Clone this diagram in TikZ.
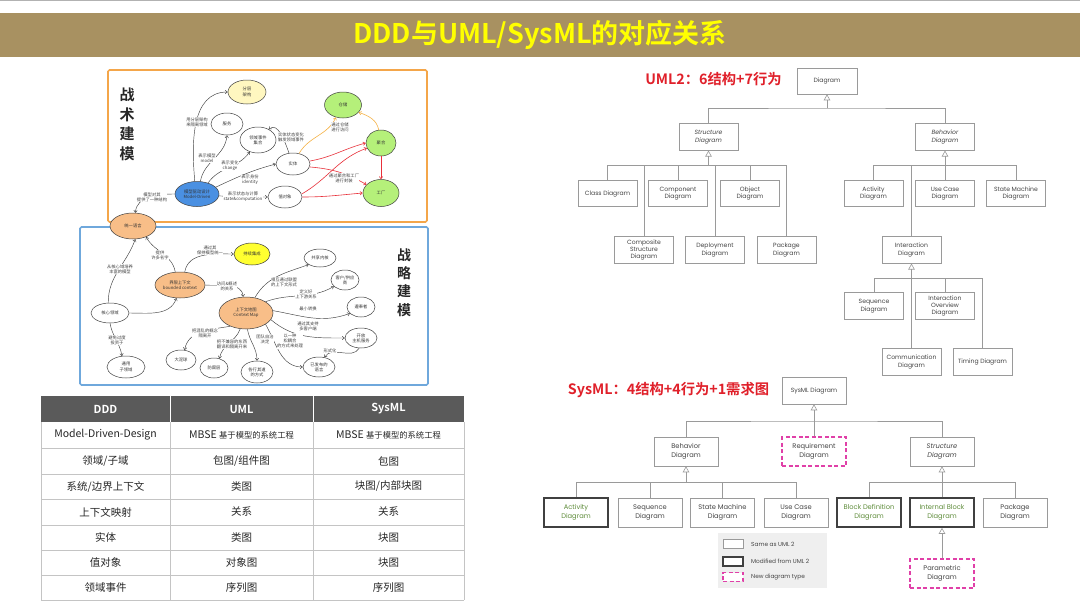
\documentclass[tikz,border=0pt]{standalone}
\usepackage{fontspec}
\usetikzlibrary{arrows.meta,shapes.geometric}
\setmainfont{Noto Sans CJK SC}[BoldFont={Noto Sans CJK SC Bold}]
\newfontfamily\cjk{Noto Sans CJK SC}[BoldFont={Noto Sans CJK SC Bold}]
\newfontfamily\gothic{Poppins}
\definecolor{barbrown}{HTML}{A89161}
\definecolor{titleyellow}{HTML}{FFFF00}
\definecolor{redtitle}{HTML}{E0202A}
\definecolor{orgframe}{HTML}{F4A64A}
\definecolor{blueframe}{HTML}{6FA8DC}
\definecolor{peach}{HTML}{F8BE88}
\definecolor{mdblue}{HTML}{4A90E2}
\definecolor{paleyellow}{HTML}{FFF7C0}
\definecolor{brightyellow}{HTML}{FFFF30}
\definecolor{lgreen}{HTML}{B5F07A}
\definecolor{linegray}{HTML}{404040}
\definecolor{redarrow}{HTML}{E8303A}
\definecolor{orangearrow}{HTML}{F5B041}
\definecolor{hdrgray}{HTML}{5A5A5A}
\definecolor{gridgray}{HTML}{C4C4C4}
\definecolor{umlgray}{HTML}{9A9A9A}
\definecolor{umltext}{HTML}{444444}
\definecolor{sysgreen}{HTML}{5E8C3A}
\definecolor{magenta2}{HTML}{E040A8}
\definecolor{legendbg}{HTML}{EFEFEF}
\tikzset{
  mm/.style={ellipse, draw=linegray, line width=0.5pt, fill=white, inner sep=0pt, align=center, font=\cjk\fontsize{4.3}{5.2}\selectfont, text=black!80},
  sz/.style 2 args={minimum width=#1pt, minimum height=#2pt},
  lbl/.style={font=\cjk\fontsize{4.3}{5.2}\selectfont, align=center, text=black!75, inner sep=0.4pt, fill=white},
  arr/.style={-{Straight Barb[length=2.2pt,width=3.4pt]}, draw=linegray, line width=0.45pt},
  rarr/.style={arr, draw=redarrow, line width=0.6pt},
  oarr/.style={arr, draw=orangearrow, line width=0.6pt},
  ub/.style={rectangle, draw=umlgray, line width=0.6pt, fill=white, align=center, font=\gothic\fontsize{6.1}{7.4}\selectfont, text=umltext, inner sep=1pt},
  itl/.style={font=\gothic\itshape\fontsize{6.1}{7.4}\selectfont},
  sfont/.style={font=\gothic\fontsize{6.7}{8.4}\selectfont},
  sitl/.style={font=\gothic\itshape\fontsize{6.7}{8.4}\selectfont},
  uw/.style={minimum width=59pt, minimum height=26.5pt},
  sysw/.style={minimum width=64pt, minimum height=29pt, sfont},
  uln/.style={draw=umlgray, line width=0.6pt},
  gen/.style={uln, -{Triangle[open, length=6pt, width=6.5pt]}},
  thickb/.style={draw=black!75, line width=1.6pt, text=sysgreen},
  newb/.style={draw=magenta2, line width=1.2pt, dash pattern=on 4pt off 2.5pt},
  tcell/.style={font=\cjk\fontsize{10.5}{12}\selectfont, text=black!85},
  thead/.style={font=\cjk\bfseries\fontsize{11}{12}\selectfont, text=white},
  redt/.style={font=\cjk\bfseries\fontsize{14.3}{16}\selectfont, text=redtitle},
}
\begin{document}
\begin{tikzpicture}[x=1pt, y=-1pt]
\useasboundingbox (0,0) rectangle (1080,608);
\fill[white] (0,0) rectangle (1080,608);
\draw[gray!60, line width=1.2pt] (0,0.8) -- (1080,0.8);
% title bar
\fill[barbrown] (0,13) rectangle (1080,57);
\node[font=\cjk\bfseries\fontsize{27}{29}\selectfont, text=titleyellow] (title) at (540,35) {DDD与UML/SysML的对应关系};

% frames
\draw[orgframe, line width=1.6pt, rounded corners=1.5pt] (108,70) rectangle (427,222);
\draw[blueframe, line width=1.6pt, rounded corners=1.5pt] (80,227) rectangle (428,385);
\node[font=\cjk\bfseries\fontsize{15}{19.6}\selectfont, align=center, text=black!85] (tz) at (127,124.5) {战\\术\\建\\模};
\node[font=\cjk\bfseries\fontsize{14}{18.3}\selectfont, align=center, text=black!85] (zl) at (404,282.5) {战\\略\\建\\模};

% ---------- tactical map ----------
\node[mm, fill=paleyellow, sz={38}{24}] (fc) at (247,92) {分层\\架构};
\node[mm, sz={32}{22}] (fw) at (227,124) {服务};
\node[mm, sz={36}{26}] (ly) at (258,140) {领域事件\\集合};
\node[mm, fill=mdblue, sz={44}{25}] (md) at (197,194) {模型驱动设计\\Model-Driven};
\node[mm, sz={34}{22}] (st) at (293,164) {实体};
\node[mm, sz={34}{22}] (zd) at (285,197) {值对象};
\node[mm, fill=lgreen, sz={37}{26}] (cc) at (343,105) {仓储};
\node[mm, fill=lgreen, sz={30}{26}] (jh) at (381,143) {聚合};
\node[mm, fill=lgreen, sz={36}{27}] (gc) at (381,193) {工厂};
\node[mm, fill=peach, sz={46}{26}] (ty) at (133,226) {统一语言};

\draw[arr] (md.100) to[out=95,in=180] (fc.west);
\draw[arr] (md.75) to[out=80,in=-95] (fw.south);
\draw[arr] (md.45) to[out=55,in=-125] (ly.235);
\draw[arr] (md.20) to[out=25,in=195] (st.west);
\draw[arr] (md.-5) to[out=-2,in=180] (zd.west);
\draw[arr] (md.west) to[out=180,in=85] (ty.80);
\draw[arr] (st.110) to[out=110,in=40] (ly.45);
\draw[oarr] (st.60) to[out=60,in=-115] (cc.240);
\draw[oarr] (jh.100) to[out=100,in=-20] (cc.-25);
\draw[rarr] (st.10) to[out=10,in=195] (jh.west);
\draw[rarr] (st.-10) to[out=-5,in=150] (gc.150);
\draw[rarr] (zd.10) to[out=30,in=200] (jh.200);
\draw[rarr] (zd.east) to[out=0,in=185] (gc.west);
\draw[rarr] (jh.south) -- (gc.north);

\node[lbl] (l1) at (197,122) {用分层架构\\来隔离领域};
\node[lbl] (l2) at (207,158) {表示模型\\model};
\node[lbl] (l3) at (230,166) {表示变化\\change};
\node[lbl] (l4) at (250,180) {表示身份\\identity};
\node[lbl] (l5) at (243,197) {表示状态与计算\\state\&computation};
\node[lbl] (l6) at (152,197) {模型对其\\提供了一种结构};
\node[lbl] (l7) at (340,127) {通过仓储\\进行访问};
\node[lbl] (l8) at (344,178) {通过聚合和工厂\\进行封装};
\node[lbl] (l9) at (291,137) {实体状态变化\\触发领域事件};

% ---------- strategic map ----------
\node[mm, fill=peach, sz={50}{26}] (bc) at (180,285) {界限上下文\\bounded context};
\node[mm, fill=brightyellow, sz={36}{22}] (ci) at (252,254) {持续集成};
\node[mm, sz={38}{20}] (core) at (110,313) {核心领域};
\node[mm, sz={38}{22}] (gsd) at (126,367) {通用\\子领域};
\node[mm, fill=peach, sz={54}{32}] (cm) at (246,313) {上下文地图\\Context Map};
\node[mm, sz={30}{20}] (bbm) at (181,360) {大泥球};
\node[mm, sz={28}{20}] (acl) at (214,368) {防腐层};
\node[mm, sz={32}{22}] (swy) at (257,372) {各行其道\\的方式};
\node[mm, sz={32}{18}] (sk) at (320,258) {共享内核};
\node[mm, sz={28}{20}] (cs) at (345,280) {客户/供应\\商};
\node[mm, sz={28}{20}] (cf) at (361,307) {遵奉者};
\node[mm, sz={32}{20}] (ohs) at (361,338) {开放\\主机服务};
\node[mm, sz={32}{20}] (pl) at (319,367) {已发布的\\语言};

\draw[arr] (core.100) to[out=90,in=-110] (ty.-80);
\draw[arr] (core.east) to[out=0,in=-110] (bc.-105);
\draw[arr] (bc.110) to[out=100,in=-60] (ty.-40);
\draw[arr] (bc.70) to[out=80,in=180] (ci.west);
\draw[arr] (bc.east) to[out=-5,in=95] (cm.100);
\draw[arr] (core.-90) to[out=-80,in=100] (gsd.110);
\draw[arr] (cm.220) to[out=190,in=80] (bbm.70);
\draw[arr] (cm.250) to[out=-110,in=80] (acl.60);
\draw[arr] (cm.-85) to[out=-80,in=90] (swy.north);
\draw[arr] (cm.-30) to[out=-60,in=180] (pl.west);
\draw[arr] (cm.60) to[out=60,in=200] (sk.210);
\draw[arr] (cm.30) to[out=20,in=-150] (cs.-150);
\draw[arr] (cm.5) to[out=-10,in=-160] (cf.-150);
\draw[arr] (cm.-15) to[out=-40,in=180] (ohs.west);
\draw[arr] (ohs.-100) to[out=-120,in=60] (pl.60);

\node[lbl] (m1) at (120,269) {从核心域培养\\丰富的模型};
\node[lbl] (m2) at (160,255) {提供\\许多名字};
\node[lbl] (m3) at (210,250) {通过其\\保持模型统一};
\node[lbl] (m4) at (227,286) {访问\&概述\\的关系};
\node[lbl] (m5) at (117,340) {避免过度\\投资于};
\node[lbl] (m6) at (205,333) {把混乱的概念\\隔离开};
\node[lbl] (m7) at (232,344) {把不兼容的东西\\翻译和隔离开来};
\node[lbl] (m8) at (265,339) {团队自治\\决定};
\node[lbl] (m9) at (290,341) {以一种\\松耦合\\的方式来处理};
\node[lbl] (m10) at (284,282) {相互通过联盟\\的上下文形式};
\node[lbl] (m11) at (306,294) {定义好\\上下游关系};
\node[lbl] (m12) at (308,309) {最小转换};
\node[lbl] (m13) at (308,326) {通过其支持\\多客户端};
\node[lbl] (m14) at (330,351) {形式化};

% ---------- table ----------
\fill[hdrgray] (41,396) rectangle (464,422);
\draw[white, line width=0.8pt] (170,396) -- (170,422) (313,396) -- (313,422);
\foreach \yy in {448,474,499,525,550,575,600} \draw[gridgray, line width=0.7pt] (41,\yy) -- (464,\yy);
\foreach \xx in {41,170,313,464} \draw[gridgray, line width=0.7pt] (\xx,422) -- (\xx,600);
\node[thead] (h1) at (105.5,409) {DDD};
\node[thead] (h2) at (241.5,409) {UML};
\node[thead] (h3) at (388.5,409) {SysML};
\node[tcell] (a1) at (105.5,435) {Model-Driven-Design};
\node[tcell] (b1) at (241.5,435) {MBSE {\fontsize{8.3}{10}\selectfont 基于模型的系统工程}};
\node[tcell] (c1) at (388.5,435) {MBSE {\fontsize{8.3}{10}\selectfont 基于模型的系统工程}};
\node[tcell] (a2) at (105.5,461) {领域/子域};
\node[tcell] (b2) at (241.5,461) {包图/组件图};
\node[tcell] (c2) at (388.5,461) {包图};
\node[tcell] (a3) at (105.5,486.5) {系统/边界上下文};
\node[tcell] (b3) at (241.5,486.5) {类图};
\node[tcell] (c3) at (388.5,486.5) {块图/内部块图};
\node[tcell] (a4) at (105.5,512) {上下文映射};
\node[tcell] (b4) at (241.5,512) {关系};
\node[tcell] (c4) at (388.5,512) {关系};
\node[tcell] (a5) at (105.5,537.5) {实体};
\node[tcell] (b5) at (241.5,537.5) {类图};
\node[tcell] (c5) at (388.5,537.5) {块图};
\node[tcell] (a6) at (105.5,562.5) {值对象};
\node[tcell] (b6) at (241.5,562.5) {对象图};
\node[tcell] (c6) at (388.5,562.5) {块图};
\node[tcell] (a7) at (105.5,587.5) {领域事件};
\node[tcell] (b7) at (241.5,587.5) {序列图};
\node[tcell] (c7) at (388.5,587.5) {序列图};

% ---------- UML2 tree ----------
\node[redt] (u2t) at (713.5,79) {UML2：6结构+7行为};
\node[ub, minimum width=60pt, minimum height=26pt] (dg) at (827,81) {Diagram};
\node[ub, uw, itl] (sd) at (708.5,137) {Structure\\Diagram};
\node[ub, uw, itl] (bd) at (945,137) {Behavior\\Diagram};
\coordinate (j0) at (827,108);
\draw[gen] (j0) -- (dg.south);
\draw[uln] (sd.north) |- (j0) -| (bd.north);

\node[ub, uw] (cl) at (607.5,193.5) {Class Diagram};
\node[ub, uw] (cp) at (678,193.5) {Component\\Diagram};
\node[ub, uw] (ob) at (750,193.5) {Object\\Diagram};
\node[ub, uw] (csd) at (644,250) {Composite\\Structure\\Diagram};
\node[ub, uw] (dp) at (715,250) {Deployment\\Diagram};
\node[ub, uw] (pk) at (786.5,250) {Package\\Diagram};
\coordinate (j1) at (708.5,165);
\draw[gen] (j1) -- (sd.south);
\foreach \n in {cl,cp,ob,csd,dp,pk} \draw[uln] (\n.north) |- (j1);

\node[ub, uw] (ac) at (873.5,193.5) {Activity\\Diagram};
\node[ub, uw] (uc) at (945,193.5) {Use Case\\Diagram};
\node[ub, uw] (sm) at (1016,193.5) {State Machine\\Diagram};
\node[ub, uw] (idg) at (911.5,250) {Interaction\\Diagram};
\coordinate (j2) at (945,165);
\draw[gen] (j2) -- (bd.south);
\foreach \n in {ac,uc,sm,idg} \draw[uln] (\n.north) |- (j2);

\node[ub, uw] (sq) at (874,306) {Sequence\\Diagram};
\node[ub, uw] (io) at (945,306) {Interaction\\Overview\\Diagram};
\node[ub, uw] (cmd) at (911.5,362) {Communication\\Diagram};
\node[ub, uw] (tm) at (982.5,362) {Timing Diagram};
\coordinate (j3) at (911.5,278);
\draw[gen] (j3) -- (idg.south);
\foreach \n in {sq,io,cmd,tm} \draw[uln] (\n.north) |- (j3);

% ---------- SysML tree ----------
\node[redt] (syt) at (668.5,390) {SysML：4结构+4行为+1需求图};
\node[ub, minimum width=64pt, minimum height=27pt] (sy) at (814,390.5) {SysML Diagram};
\node[ub, sysw] (bh2) at (686,451.5) {Behavior\\Diagram};
\node[ub, sysw, newb] (rq) at (814,451.5) {Requirement\\Diagram};
\node[ub, sysw, sitl] (st2) at (942,451.5) {Structure\\Diagram};
\coordinate (k0) at (814,421);
\draw[gen] (rq.north) -- (sy.south);
\draw[uln] (bh2.north) |- (k0) -| (st2.north);

\node[ub, sysw, thickb] (ac2) at (576,512.5) {Activity\\Diagram};
\node[ub, sysw] (sq2) at (650,512.5) {Sequence\\Diagram};
\node[ub, sysw] (sm2) at (722.5,512.5) {State Machine\\Diagram};
\node[ub, sysw] (uc2) at (796,512.5) {Use Case\\Diagram};
\coordinate (k1) at (686,482);
\draw[gen] (k1) -- (bh2.south);
\foreach \n in {ac2,sq2,sm2,uc2} \draw[uln] (\n.north) |- (k1);

\node[ub, sysw, thickb] (bdd) at (869,512.5) {Block Definition\\Diagram};
\node[ub, sysw, thickb] (ibd) at (942,512.5) {Internal Block\\Diagram};
\node[ub, sysw] (pk2) at (1015,512.5) {Package\\Diagram};
\coordinate (k2) at (942,482);
\draw[gen] (k2) -- (st2.south);
\foreach \n in {bdd,pk2} \draw[uln] (\n.north) |- (k2);
\draw[uln] (ibd.north) -- (k2);

\node[ub, sysw, newb] (par) at (942,573.5) {Parametric\\Diagram};
\draw[gen] (par.north) -- (ibd.south);

% legend
\fill[legendbg] (718,533) rectangle (827,588);
\node[ub, minimum width=20pt, minimum height=8.5pt, inner sep=0pt] (lg1) at (733,544) {};
\node[ub, thickb, minimum width=20pt, minimum height=8.5pt, inner sep=0pt] (lg2) at (733,561.5) {};
\node[ub, newb, minimum width=20pt, minimum height=8.5pt, inner sep=0pt] (lg3) at (733,577) {};
\node[anchor=west, font=\gothic\fontsize{5.8}{6.5}\selectfont, text=umltext, inner sep=0pt] (lt1) at (751,544) {Same as UML 2};
\node[anchor=west, font=\gothic\fontsize{5.8}{6.5}\selectfont, text=umltext, inner sep=0pt] (lt2) at (751,561.5) {Modified from UML 2};
\node[anchor=west, font=\gothic\fontsize{5.8}{6.5}\selectfont, text=umltext, inner sep=0pt] (lt3) at (751,577) {New diagram type};
\end{tikzpicture}
\end{document}
